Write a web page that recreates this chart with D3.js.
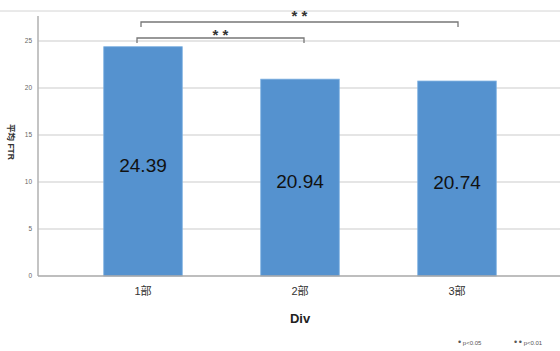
<!DOCTYPE html>
<html>
<head>
<meta charset="utf-8">
<script src="https://cdn.jsdelivr.net/npm/d3@7"></script>
<style>
  body { margin: 0; background: #fff; }
  svg { display: block; font-family: "Liberation Sans", Arial, "Noto Sans CJK JP", sans-serif; }
</style>
</head>
<body>
<div id="chart"></div>
<script>
var categories = ["1部", "2部", "3部"];
var values = [24.39, 20.94, 20.74];
var yTicks = [0, 5, 10, 15, 20, 25];
// significance brackets: [fromIndex, toIndex, label]
var brackets = [[0, 1, "* *"], [0, 2, "* *"]];

var width = 560, height = 351;

var svg = d3.select("#chart").append("svg")
    .attr("width", width)
    .attr("height", height);

var x = d3.scaleBand()
    .domain(categories)
    .range([64.5, 535.5])
    .paddingInner(0.5)
    .paddingOuter(0.25);

var y = d3.scaleLinear()
    .domain([0, 25])
    .range([276, 41]);

// top frame line
svg.append("line")
    .attr("x1", 0).attr("x2", width)
    .attr("y1", 11).attr("y2", 11)
    .style("stroke", "#d4d4d4")
    .style("stroke-width", 1);

// gridlines
svg.selectAll(".grid")
    .data(yTicks.filter(function(d) { return d > 0; }))
    .enter().append("line")
    .attr("class", "grid")
    .attr("x1", 38).attr("x2", width)
    .attr("y1", function(d) { return y(d); })
    .attr("y2", function(d) { return y(d); })
    .style("stroke", "#dcdcdc")
    .style("stroke-width", 1.3);

// y tick labels
svg.selectAll(".ytick")
    .data(yTicks)
    .enter().append("text")
    .attr("class", "ytick")
    .attr("x", 32)
    .attr("y", function(d) { return y(d); })
    .attr("dy", "0.35em")
    .attr("text-anchor", "end")
    .style("font-size", "6.5px")
    .style("fill", "#666")
    .text(function(d) { return d; });

// bars
svg.selectAll(".bar")
    .data(values)
    .enter().append("rect")
    .attr("class", "bar")
    .attr("x", function(d, i) { return x(categories[i]); })
    .attr("y", function(d) { return y(d); })
    .attr("width", x.bandwidth())
    .attr("height", function(d) { return y(0) - y(d); })
    .style("fill", "#5592cf")
    .style("stroke", "#7aaee0")
    .style("stroke-width", 0.8);

// value labels
svg.selectAll(".val")
    .data(values)
    .enter().append("text")
    .attr("class", "val")
    .attr("x", function(d, i) { return x(categories[i]) + x.bandwidth() / 2; })
    .attr("y", function(d) { return (y(d) + y(0)) / 2 + 4; })
    .attr("dy", "0.35em")
    .attr("text-anchor", "middle")
    .style("font-size", "19px")
    .style("fill", "#111")
    .text(function(d) { return d.toFixed(2); });

// axes lines
svg.append("line")
    .attr("x1", 38).attr("x2", 38)
    .attr("y1", 16).attr("y2", y(0))
    .style("stroke", "#b0b0b0")
    .style("stroke-width", 1.5);

svg.append("line")
    .attr("x1", 38).attr("x2", width)
    .attr("y1", y(0)).attr("y2", y(0))
    .style("stroke", "#a8a8a8")
    .style("stroke-width", 1.3);

// x tick labels
svg.selectAll(".xtick")
    .data(categories)
    .enter().append("text")
    .attr("class", "xtick")
    .attr("x", function(d) { return x(d) + x.bandwidth() / 2; })
    .attr("y", 291)
    .attr("dy", "0.35em")
    .attr("text-anchor", "middle")
    .style("font-size", "11px")
    .style("fill", "#333")
    .text(function(d) { return d; });

// x title
svg.append("text")
    .attr("x", 300)
    .attr("y", 318)
    .attr("dy", "0.35em")
    .attr("text-anchor", "middle")
    .style("font-size", "13px")
    .style("font-weight", "bold")
    .style("fill", "#222")
    .text("Div");

// y title
svg.append("text")
    .attr("transform", "translate(11,142) rotate(90)")
    .attr("dy", "0.35em")
    .attr("text-anchor", "middle")
    .style("font-size", "8.5px")
    .style("font-weight", "bold")
    .style("fill", "#333")
    .text("平均 FTR");

// significance brackets
var bracketY = [38, 22];
var starY = [31, 12];
brackets.forEach(function(b, i) {
    var x1 = x(categories[b[0]]) + x.bandwidth() / 2 - (i === 0 ? 6 : 2);
    var x2 = x(categories[b[1]]) + x.bandwidth() / 2 + (i === 0 ? 4 : 1);
    var by = bracketY[i];
    svg.append("path")
        .attr("d", "M" + x1 + "," + (by + 5) + "V" + by + "H" + x2 + "V" + (by + 5))
        .style("fill", "none")
        .style("stroke", "#777")
        .style("stroke-width", 1.3);
    svg.append("text")
        .attr("x", (x1 + x2) / 2)
        .attr("y", starY[i] + 8.5)
        .attr("text-anchor", "middle")
        .style("font-size", "15px")
        .style("font-weight", "bold")
        .style("fill", "#333")
        .text(b[2]);
});

// legend
svg.append("text")
    .attr("x", 458)
    .attr("y", 343)
    .attr("dy", "0.35em")
    .style("font-size", "6px")
    .style("fill", "#555")
    .html("<tspan style='font-size:9px'>•</tspan> p&lt;0.05");

svg.append("text")
    .attr("x", 514)
    .attr("y", 343)
    .attr("dy", "0.35em")
    .style("font-size", "6px")
    .style("fill", "#555")
    .html("<tspan style='font-size:9px'>•</tspan>  <tspan style='font-size:9px'>•</tspan> p&lt;0.01");
</script>
</body>
</html>
